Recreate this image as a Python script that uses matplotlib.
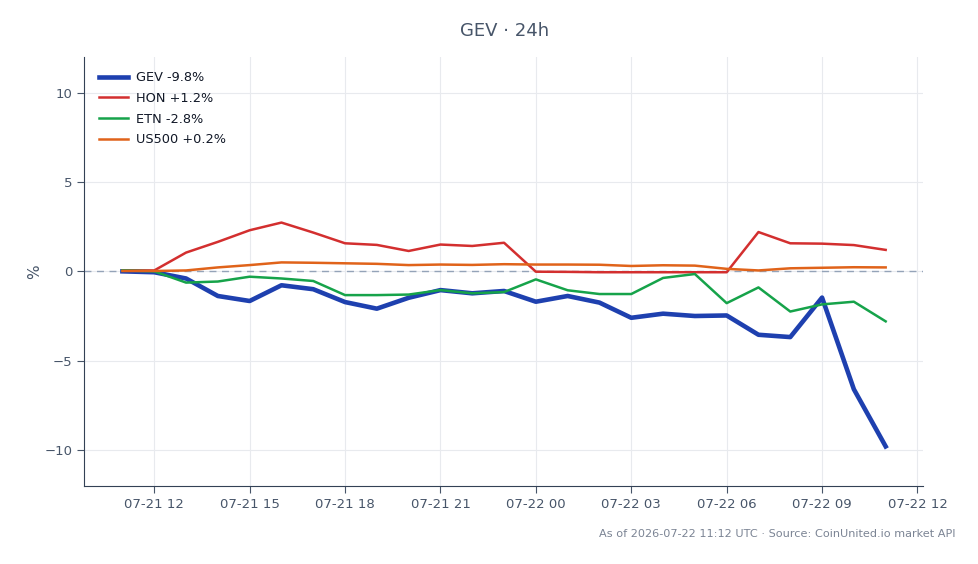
import matplotlib.pyplot as plt
import matplotlib.dates as mdates
import pandas as pd

# hourly samples, 07-21 11:00 -> 07-22 11:00 (% change)
times = pd.date_range('2026-07-21 11:00', '2026-07-22 11:00', freq='h')

gev = [0.0, -0.05, -0.4, -1.38, -1.66, -0.78, -1.0, -1.72, -2.09, -1.48, -1.05, -1.23, -1.1,
       -1.7, -1.38, -1.75, -2.6, -2.37, -2.5, -2.47, -3.55, -3.68, -1.47, -6.6, -9.8]
hon = [0.05, 0.05, 1.05, 1.65, 2.3, 2.73, 2.17, 1.57, 1.48, 1.14, 1.5, 1.42, 1.6,
       -0.02, -0.03, -0.05, -0.05, -0.05, -0.05, -0.05, 2.2, 1.57, 1.55, 1.47, 1.2]
etn = [0.05, 0.0, -0.63, -0.57, -0.3, -0.4, -0.54, -1.33, -1.33, -1.3, -1.05, -1.23, -1.16,
       -0.45, -1.06, -1.27, -1.27, -0.37, -0.15, -1.78, -0.9, -2.25, -1.85, -1.7, -2.8]
us500 = [0.02, 0.02, 0.05, 0.22, 0.35, 0.5, 0.48, 0.45, 0.42, 0.35, 0.38, 0.36, 0.4,
         0.38, 0.38, 0.37, 0.3, 0.34, 0.32, 0.14, 0.05, 0.17, 0.2, 0.23, 0.22]

series = [('GEV -9.8%', gev, '#1e40af', 3.3),
          ('HON +1.2%', hon, '#d32f2f', 1.8),
          ('ETN -2.8%', etn, '#16a34a', 1.8),
          ('US500 +0.2%', us500, '#e0631a', 1.8)]

txt = '#475569'
fig = plt.figure(figsize=(9.79, 5.64), dpi=100)
ax = fig.add_axes([0.0861, 0.1388, 0.857, 0.7602])

for name, vals, col, lw in series:
    ax.plot(times, vals, color=col, linewidth=lw, label=name)

ax.axhline(0, color='#94a3b8', linewidth=1, linestyle=(0, (5, 4)), zorder=1)

ax.set_ylim(-12, 12)
ax.set_xlim(pd.Timestamp('2026-07-21 09:48'), pd.Timestamp('2026-07-22 12:11'))
ax.set_yticks([-10, -5, 0, 5, 10])
ax.xaxis.set_major_locator(mdates.HourLocator(byhour=range(0, 24, 3)))
ax.xaxis.set_major_formatter(mdates.DateFormatter('%m-%d %H'))

ax.grid(True, color='#e8eaee', linewidth=0.8)
ax.set_axisbelow(True)
for s in ['top', 'right']:
    ax.spines[s].set_visible(False)
for s in ['left', 'bottom']:
    ax.spines[s].set_color('#334155')
ax.tick_params(colors=txt, labelsize=9.5, length=5)
ax.tick_params(axis='x', pad=4)
ax.set_ylabel('%', color=txt, fontsize=11, labelpad=2)

leg = ax.legend(loc='upper left', frameon=False, fontsize=9.3, handlelength=2.3,
                borderaxespad=0.7, labelspacing=0.6, handletextpad=0.6)
for t in leg.get_texts():
    t.set_color('#111827')

fig.text(0.515, 0.945, 'GEV · 24h', ha='center', va='center', fontsize=13, color=txt)
fig.text(0.976, 0.053, 'As of 2026-07-22 11:12 UTC · Source: CoinUnited.io market API',
         ha='right', va='center', fontsize=8.15, color='#7b8494')

fig.savefig('out.png', dpi=100)
